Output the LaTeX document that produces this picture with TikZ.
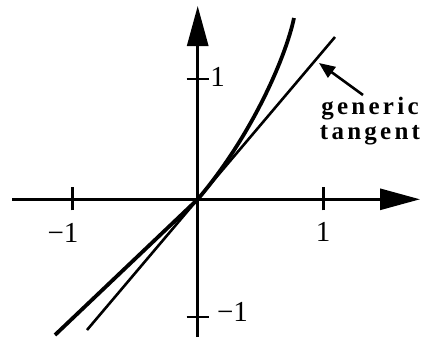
\documentclass[tikz,border=0pt]{standalone}
\usepackage{fontspec}
\setmainfont{Liberation Serif}
\newfontfamily\lblfont[LetterSpace=13]{Liberation Serif}
\usetikzlibrary{arrows.meta}
\begin{document}
\begin{tikzpicture}[x=1pt,y=-1pt,
  axis/.style={line width=2.9pt,-{Triangle[length=40pt,width=21pt]}},
  tick/.style={line width=2.6pt},
  tangentline/.style={line width=2.6pt},
  curveline/.style={line width=3.8pt},
  pointer/.style={line width=2.6pt,-{Triangle[length=16pt,width=13pt]}},
  num/.style={inner sep=0pt,font=\fontsize{29}{32}\selectfont},
  lbl/.style={inner sep=0pt,anchor=base,font=\fontsize{25}{27}\selectfont\lblfont\bfseries}]
\useasboundingbox (0,0) rectangle (421,338);
% coordinates
\coordinate (O) at (197.7,199.3);
\coordinate (xs) at (12,199.3);
\coordinate (xe) at (420,199.3);
\coordinate (ys) at (197.7,337);
\coordinate (ye) at (197.7,6);
\coordinate (xp1) at (323.3,199.3);
\coordinate (xm1) at (72.3,199.3);
\coordinate (yp1) at (197.7,79);
\coordinate (ym1) at (197.7,317);
\coordinate (tanA) at (87,330);
\coordinate (tanB) at (335,37);
\coordinate (crvL) at (55,335);
\coordinate (crvT) at (294,18);
\coordinate (ptail) at (363,95);
\coordinate (ptip) at (319,63);
% axes
\draw[axis] (xs) -- (xe);
\draw[axis] (ys) -- (ye);
% ticks
\draw[tick] ([yshift=-11pt]xp1) -- ([yshift=12pt]xp1);
\draw[tick] ([yshift=-11pt]xm1) -- ([yshift=12pt]xm1);
\draw[tick] ([xshift=-11pt]yp1) -- ([xshift=11pt]yp1);
\draw[tick] ([xshift=-11pt]ym1) -- ([xshift=11pt]ym1);
% labels
\node[num] (lxm1) at (63,232.5) {−1};
\node[num] (lxp1) at (323,232) {1};
\node[num] (lyp1) at (217.5,77) {1};
\node[num] (lym1) at (232.5,312) {−1};
% tangent
\draw[tangentline] (tanA) -- (tanB);
% curve
\draw[curveline,line join=round] (crvL) -- (O) .. controls (250,138) and (285,60) .. (crvT);
% annotation
\node[lbl] (gen) at (370,114) {generic};
\node[lbl] (tng) at (370,139) {tangent};
\draw[pointer] (ptail) -- (ptip);
\end{tikzpicture}
\end{document}
